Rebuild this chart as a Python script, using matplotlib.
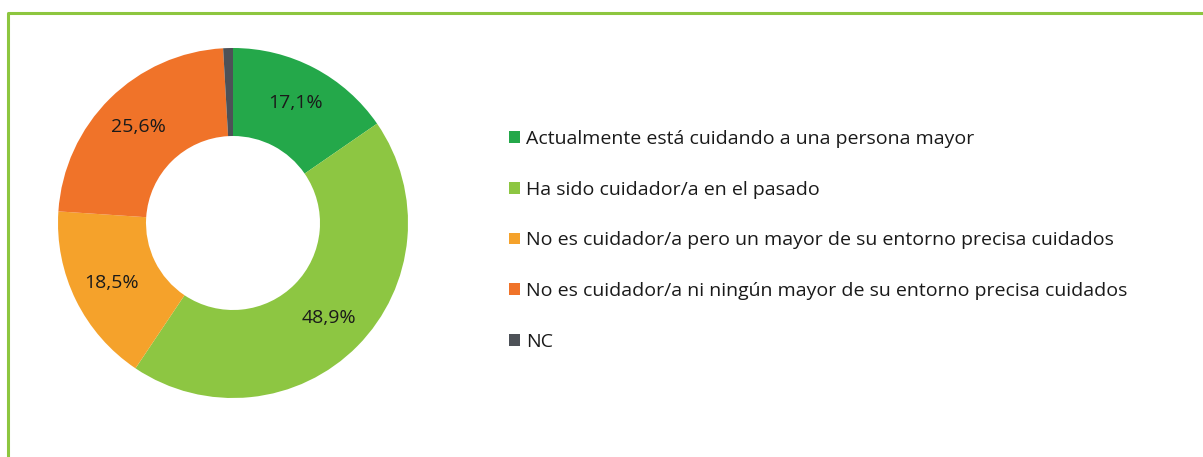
import numpy as np
import matplotlib.pyplot as plt

# categories and values
categorias = ['Actualmente está cuidando a una persona mayor',
              'Ha sido cuidador/a en el pasado',
              'No es cuidador/a pero un mayor de su entorno precisa cuidados',
              'No es cuidador/a ni ningún mayor de su entorno precisa cuidados',
              'NC']
valores = [17.1, 48.9, 18.5, 25.6, 1.0]
etiquetas = ['17,1%', '48,9%', '18,5%', '25,6%', '']
colores = ['#24a84a', '#8dc642', '#f5a22b', '#f07329', '#4d5157']

plt.rcParams['font.family'] = ['Open Sans', 'DejaVu Sans']

fig = plt.figure(figsize=(12.03, 4.57), dpi=100)
ax = fig.add_axes([0, 0, 1, 1])

# green frame (left and top edges only visible)
ax.plot([8, 8, 1203], [457, 13, 13], color='#8dc63f', lw=2.2, solid_capstyle='butt')

cx, cy, r_out, r_in = 233, 223, 175, 87
# y axis is flipped below, so start at -90 and go counterclockwise in data space
wedges, _ = ax.pie(valores, colors=colores, startangle=-90, counterclock=True,
                   center=(cx, cy), radius=r_out, frame=True,
                   wedgeprops=dict(width=r_out - r_in, edgecolor='none'))
ax.set_xlim(0, 1203)
ax.set_ylim(457, 0)
ax.set_aspect('equal')
ax.axis('off')

# labels in the middle of each ring segment
r_mid = (r_out + r_in) / 2 + 4
for w, lab in zip(wedges, etiquetas):
    if not lab:
        continue
    ang = np.deg2rad((w.theta1 + w.theta2) / 2)
    x = cx + r_mid * np.cos(ang)
    y = cy + r_mid * np.sin(ang)
    ax.text(x, y, lab, ha='center', va='center', fontsize=14, color='#1a1a1a')

leg = ax.legend(wedges, categorias, loc='upper left', bbox_to_anchor=(509 / 1203, 1 - 130 / 457),
                frameon=False, fontsize=14, handlelength=0.55, handleheight=0.55,
                handletextpad=0.35, labelspacing=1.68, borderpad=0, borderaxespad=0)
for t in leg.get_texts():
    t.set_color('#1a1a1a')

fig.savefig('out.png', dpi=100)
